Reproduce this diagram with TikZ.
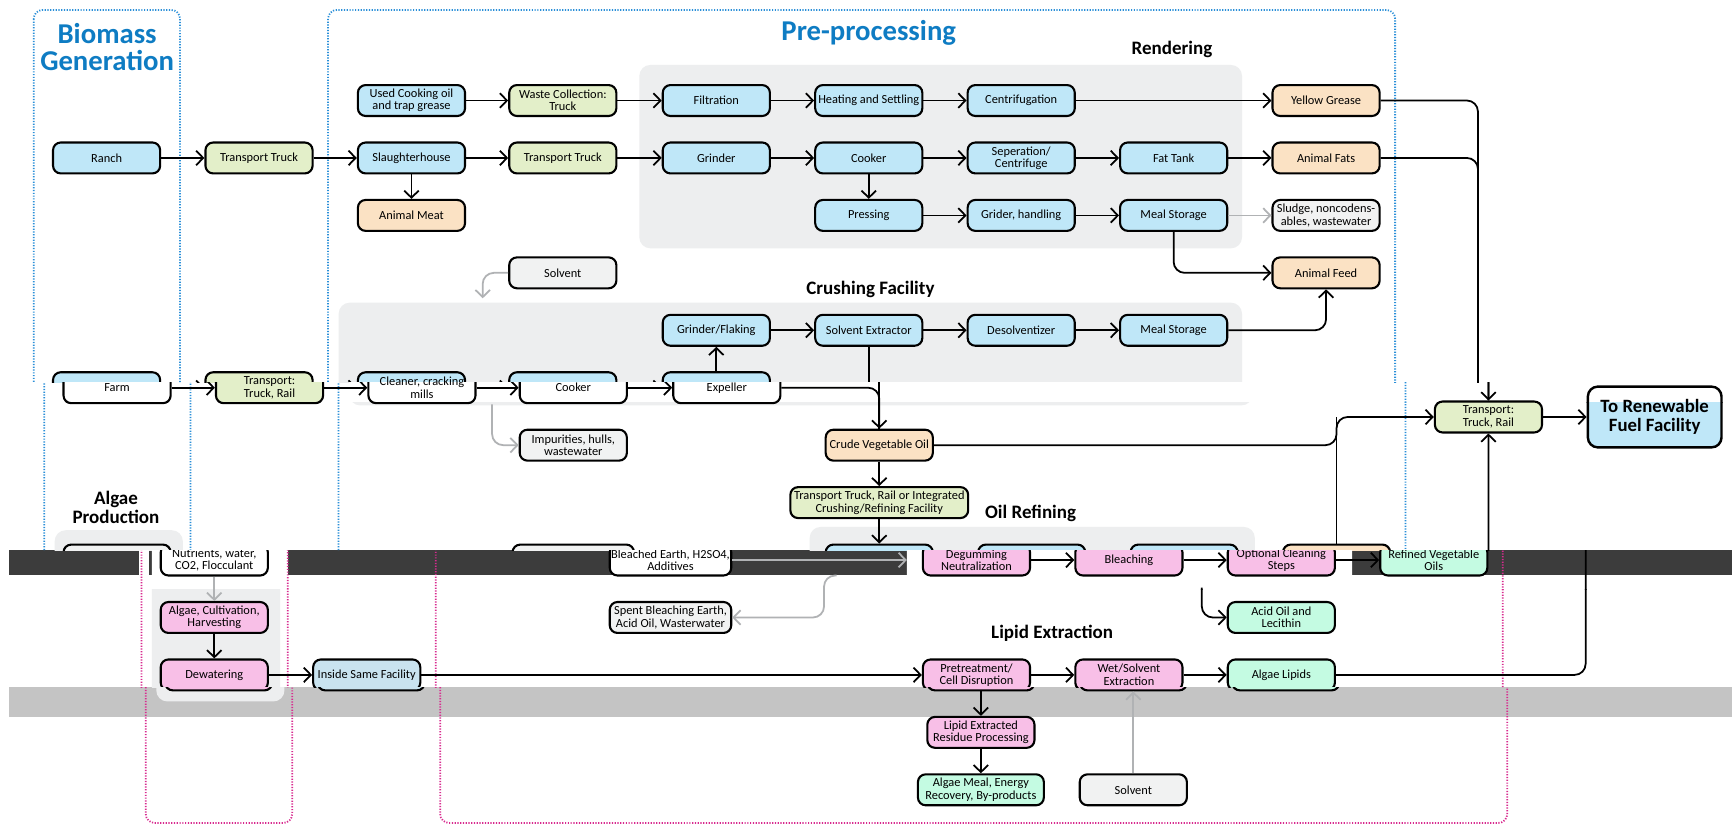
\documentclass[tikz,border=0pt]{standalone}
\usepackage{fontspec}
\setmainfont{Carlito}
\usetikzlibrary{arrows.meta}
\definecolor{bBlue}{HTML}{BFE7F8}
\definecolor{bGreen}{HTML}{E3EFC9}
\definecolor{bOrange}{HTML}{FBE2C4}
\definecolor{bGrayN}{HTML}{F1F2F2}
\definecolor{bGrayB}{HTML}{EDEEEF}
\definecolor{bFrame}{HTML}{2A8FD8}
\definecolor{bGArr}{HTML}{B0B2B4}
\definecolor{bTitle}{HTML}{0E7CC3}
\definecolor{rBlue}{HTML}{F8BFE7}
\definecolor{rGreen}{HTML}{C9E3EF}
\definecolor{rOrange}{HTML}{C4FBE2}
\definecolor{rFrame}{HTML}{D82A8F}
\definecolor{dkBand}{HTML}{3C3C3C}
\definecolor{gyBand}{HTML}{C4C4C4}
\newcommand{\setcols}[7]{\colorlet{cBlue}{#1}\colorlet{cGreen}{#2}\colorlet{cOrange}{#3}\colorlet{cGrayN}{#4}\colorlet{cGrayB}{#5}\colorlet{cFrame}{#6}\colorlet{cGArr}{#7}}
\setcols{bBlue}{bGreen}{bOrange}{bGrayN}{bGrayB}{bFrame}{bGArr}
\def\btop{0}\def\bbot{746}
% a text is set only in the bands that its vertical extent (centre +- half height) reaches
\newcommand{\T}[3][9]{\ifdim\dimexpr #2pt-#1pt\relax<\bbot pt\relax\ifdim\dimexpr #2pt+#1pt\relax>\btop pt\relax #3\fi\fi}
\tikzset{
 nfont/.style={font=\fontsize{5.6}{5.6}\selectfont},
 nbox/.style={draw=black, line width=0.95pt, rounded corners=3.5pt, minimum width=48.5pt, minimum height=14pt, inner sep=0.5pt, align=center, nfont},
 proc/.style={nbox, fill=cBlue},
 trans/.style={nbox, fill=cGreen},
 prod/.style={nbox, fill=cOrange},
 aux/.style={nbox, fill=cGrayN},
 bigfont/.style={font=\fontsize{8.5}{8.4}\selectfont\bfseries},
 lbl/.style={align=center, inner sep=0.5pt},
 conn/.style={draw=black, line width=0.8pt, -{Straight Barb[length=3.2pt,width=6.6pt]}},
 gconn/.style={conn, draw=cGArr},
 plain/.style={draw=black, line width=0.8pt},
 dotframe/.style={draw=cFrame, line width=0.8pt, dash pattern=on 0.55pt off 0.7pt, rounded corners=4pt},
 ttl/.style={text=bTitle, font=\fontsize{13}{12.5}\selectfont\bfseries, align=center, inner sep=0pt},
 sect/.style={text=black, font=\fontsize{8.6}{8.4}\selectfont\bfseries, align=center, inner sep=0pt},
 rc/.style={rounded corners=5pt}
}
\newcommand{\diag}{%
 % grey section boxes
 \fill[cGrayB, rc] (578.8,58.8) rectangle (1124.4,224.8);
 \fill[cGrayB, rc] (306.6,274) rectangle (1124.4,367);
 \fill[cGrayB, rc] (723.5,477) rectangle (1126.5,532);
 \fill[cGrayB, rc] (40,480) rectangle (156,635);
 % dotted frames
 \draw[dotframe] (30.5,9) rectangle (163,745);
 \draw[dotframe] (297,9) rectangle (1263,745);
 % titles
 \node[ttl] (tbio) at (97,42.5) {\T[25]{42.5}{Biomass\\Generation}};
 \node[ttl] (tpre) at (786.5,30) {\T[12]{30}{Pre-processing}};
 \node[sect] (lrend) at (1061,45) {\T[8]{45}{Rendering}};
 \node[sect] (lcrush) at (788,262) {\T[8]{262}{Crushing Facility}};
 \node[sect] (loil) at (923.5,464.5) {\T[8]{464.5}{Oil Refining}};
 \node[sect] (llip) at (855,573) {\T[8]{573}{Lipid Extraction}};
 \node[sect] (lalg) at (95.5,459.5) {\T[16]{459.5}{Algae\\Production}};
 % row 1
 \node[proc] (usedoil) at (372.5,91) {\T{91}{Used Cooking oil\\and trap grease}};
 \node[trans] (waste) at (509.5,91) {\T{91}{Waste Collection:\\Truck}};
 \node[proc] (filt) at (648.5,91) {\T{91}{Filtration}};
 \node[proc] (heat) at (786.5,91) {\T{91}{Heating and Settling}};
 \node[proc] (centr) at (924.5,91) {\T{91}{Centrifugation}};
 \node[prod] (ygr) at (1200.5,91) {\T{91}{Yellow Grease}};
 % row 2
 \node[proc] (ranch) at (96.5,143) {\T{143}{Ranch}};
 \node[trans] (tt1) at (234.5,143) {\T{143}{Transport Truck}};
 \node[proc] (slau) at (372.5,143) {\T{143}{Slaughterhouse}};
 \node[trans] (tt2) at (509.5,143) {\T{143}{Transport Truck}};
 \node[proc] (grind) at (648.5,143) {\T{143}{Grinder}};
 \node[proc] (cook) at (786.5,143) {\T{143}{Cooker}};
 \node[proc] (sep) at (924.5,143) {\T{143}{Seperation/\\Centrifuge}};
 \node[proc] (fat) at (1062.5,143) {\T{143}{Fat Tank}};
 \node[prod] (afat) at (1200.5,143) {\T{143}{Animal Fats}};
 % row 3
 \node[prod] (ameat) at (372.5,195) {\T{195}{Animal Meat}};
 \node[proc] (press) at (786.5,195) {\T{195}{Pressing}};
 \node[proc] (grid) at (924.5,195) {\T{195}{Grider, handling}};
 \node[proc] (meal1) at (1062.5,195) {\T{195}{Meal Storage}};
 \node[aux] (sludge) at (1200.5,195) {\T{195}{Sludge, noncodens-\\ables, wastewater}};
 % row 4
 \node[aux] (solv1) at (509.5,247) {\T{247}{Solvent}};
 \node[prod] (afeed) at (1200.5,247) {\T{247}{Animal Feed}};
 % row 5
 \node[proc] (flak) at (648.5,299) {\T{299}{Grinder/Flaking}};
 \node[proc] (sext) at (786.5,299) {\T{299}{Solvent Extractor}};
 \node[proc] (desolv) at (924.5,299) {\T{299}{Desolventizer}};
 \node[proc] (meal2) at (1062.5,299) {\T{299}{Meal Storage}};
 % row 6 (the texts of the two-line boxes are set once, over all bands)
 \node[proc] (farm) at (96.5,351) {\T[4]{351}{Farm}};
 \node[trans] (ttr) at (234.5,351) {};
 \node[proc] (clean) at (372.5,351) {};
 \node[proc] (cook2) at (509.5,351) {\T[4]{351}{Cooker}};
 \node[proc] (expel) at (648.5,351) {\T[4]{351}{Expeller}};
 % crude oil and transport
 \node[aux] (impur) at (509.5,403) {\T{403}{Impurities, hulls,\\wastewater}};
 \node[prod] (cvo) at (786.5,403) {\T{403}{Crude Vegetable Oil}};
 \node[trans, minimum width=80.5pt] (tint) at (786.5,455) {\T{455}{Transport Truck, Rail or Integrated\\Crushing/Refining Facility}};
 \node[trans] (transport) at (1338,377.5) {\T{377.5}{Transport:\\Truck, Rail}};
 \node[proc, minimum width=60.5pt, minimum height=27.5pt, rounded corners=4.5pt, line width=1.1pt] (renew) at (1488.5,377.5) {};
 % row 7
 \node[aux] (nutr) at (96.5,507) {\T{507}{Nutrients, water,\\CO2, Flocculant}};
 \node[aux, minimum width=55pt] (bleach) at (509.5,507) {\T{507}{Bleached Earth, H2SO4,\\Additives}};
 \node[proc] (degum) at (786.5,507) {\T{507}{Degumming\\Neutralization}};
 \node[proc] (bleaching) at (924.5,507) {\T[4]{507}{Bleaching}};
 \node[proc] (optc) at (1062.5,507) {\T{507}{Optional Cleaning\\Steps}};
 \node[prod] (refined) at (1200.5,507) {\T{507}{Refined Vegetable\\Oils}};
 % row 8
 \node[proc] (algc) at (96.5,559) {\T{559}{Algae, Cultivation,\\Harvesting}};
 \node[aux, minimum width=55pt] (spent) at (509.5,559) {\T{559}{Spent Bleaching Earth,\\Acid Oil, Wasterwater}};
 \node[prod] (acid) at (1062.5,559) {\T{559}{Acid Oil and\\Lecithin}};
 % row 9
 \node[proc] (dewat) at (96.5,611) {\T[4]{611}{Dewatering}};
 \node[trans] (inside) at (234.5,611) {\T[4]{611}{Inside Same Facility}};
 \node[proc] (pret) at (786.5,611) {\T{611}{Pretreatment/\\Cell Disruption}};
 \node[proc] (wets) at (924.5,611) {\T{611}{Wet/Solvent\\Extraction}};
 \node[prod] (alip) at (1062.5,611) {\T[4]{611}{Algae Lipids}};
 % rows 10-11
 \node[proc] (lres) at (786.5,663) {\T{663}{Lipid Extracted\\Residue Processing}};
 \node[prod, minimum width=57pt] (ameal) at (786.5,715) {\T{715}{Algae Meal, Energy\\Recovery, By-products}};
 \node[aux] (solv2) at (924.5,715) {\T{715}{Solvent}};
 % free ends
 \coordinate (solvtip) at (437,270);
 \coordinate (impstart) at (436,366);
 \coordinate (jv) at (1200.5,377.5);
 \coordinate (oilbox) at (723.5,507);
 \coordinate (spentstart) at (660,521);
 \coordinate (acidstart) at (990.5,532);
 % connectors: rendering
 \draw[conn] (usedoil) -- (waste);
 \draw[conn] (waste) -- (filt);
 \draw[conn] (filt) -- (heat);
 \draw[conn] (heat) -- (centr);
 \draw[conn] (centr) -- (ygr);
 \draw[conn] (ranch) -- (tt1);
 \draw[conn] (tt1) -- (slau);
 \draw[conn] (slau) -- (tt2);
 \draw[conn] (tt2) -- (grind);
 \draw[conn] (grind) -- (cook);
 \draw[conn] (cook) -- (sep);
 \draw[conn] (sep) -- (fat);
 \draw[conn] (fat) -- (afat);
 \draw[conn] (slau) -- (ameat);
 \draw[conn] (cook) -- (press);
 \draw[conn] (press) -- (grid);
 \draw[conn] (grid) -- (meal1);
 \draw[gconn] (meal1) -- (sludge);
 \draw[conn, rc] (meal1.south) |- (afeed.west);
 % crushing
 \draw[gconn, rc] (solv1.west) -| (solvtip);
 \draw[conn] (flak) -- (sext);
 \draw[conn] (sext) -- (desolv);
 \draw[conn] (desolv) -- (meal2);
 \draw[conn, rc] (meal2.east) -| (afeed.south);
 \draw[conn] (farm) -- (ttr);
 \draw[conn] (ttr) -- (clean);
 \draw[conn] (clean) -- (cook2);
 \draw[conn] (cook2) -- (expel);
 \draw[conn] (expel) -- (flak);
 \draw[gconn, rc] (impstart) |- (impur.west);
 \draw[plain] (sext.south) -- (cvo.north);
 \draw[conn, rc] (expel.east) -| (cvo.north);
 \draw[conn] (cvo) -- (tint);
 \draw[conn] (tint) -- (degum);
 % to transport
 \draw[conn, rc] (cvo.east) -| (jv) -- (transport.west);
 \draw[plain] (refined.north) -- (jv);
 \draw[conn, rc] (ygr.east) -| (transport.north);
 \draw[plain, rc] (afat.east) -| (transport.north);
 \draw[conn, rc] (alip.east) -| (transport.south);
 \draw[conn] (transport) -- (renew);
 % oil refining
 \draw[gconn] (bleach.east) -- (oilbox);
 \draw[gconn, rc] (spentstart) -- (648.5,521) -- (648.5,559) -- (spent.east);
 \draw[conn] (degum) -- (bleaching);
 \draw[conn] (bleaching) -- (optc);
 \draw[conn] (optc) -- (refined);
 \draw[conn, rc] (acidstart) |- (acid.west);
 % algae
 \draw[gconn] (nutr) -- (algc);
 \draw[conn] (algc) -- (dewat);
 \draw[conn] (dewat) -- (inside);
 \draw[conn] (inside) -- (pret);
 \draw[conn] (pret) -- (wets);
 \draw[conn] (wets) -- (alip);
 \draw[conn] (pret) -- (lres);
 \draw[conn] (lres) -- (ameal);
 \draw[gconn] (solv2) -- (wets);
}
\begin{document}
\begin{tikzpicture}[x=0.5pt,y=-0.5pt]
\useasboundingbox (0,0) rectangle (1568,746);
\fill[white] (0,0) rectangle (1568,746);
\fill[dkBand] (8,498) rectangle (1568,520.6);
\fill[gyBand] (8,622) rectangle (1568,649);
% band A
\begin{scope}
 \def\btop{0}\def\bbot{346}
 \setcols{bBlue}{bGreen}{bOrange}{bGrayN}{bGrayB}{bFrame}{bGArr}
 \clip (0,0) rectangle (1568,346);
 \diag
\end{scope}
% band B
\begin{scope}
 \def\btop{346}\def\bbot{364}
 \setcols{white}{bGreen}{bOrange}{white}{white}{bFrame}{bGArr}
 \clip (0,346) rectangle (1568,364);
 \begin{scope}[shift={(9.5,0)}]\diag\end{scope}
\end{scope}
% band C
\begin{scope}
 \def\btop{364}\def\bbot{498}
 \setcols{bBlue}{bGreen}{bOrange}{bGrayN}{bGrayB}{bFrame}{bGArr}
 \clip (0,364) rectangle (1568,498);
 \begin{scope}[shift={(9.5,0)}]\diag\end{scope}
\end{scope}
% band D
\begin{scope}
 \def\btop{498}\def\bbot{534}
 \setcols{rBlue}{rGreen}{rOrange}{white}{white}{rFrame}{bGArr}
 \clip (0,498) rectangle (1568,534);
 \begin{scope}[shift={(97.5,0)}]
  \fill[white] (28,498) rectangle (37.5,521);
  \fill[white] (154.5,498) rectangle (163,521);
  \diag
 \end{scope}
\end{scope}
% band E
\begin{scope}
 \def\btop{534}\def\bbot{622}
 \setcols{rBlue}{rGreen}{rOrange}{bGrayN}{bGrayB}{rFrame}{bGArr}
 \clip (0,534) rectangle (1568,622);
 \begin{scope}[shift={(97.5,0)}]\diag\end{scope}
\end{scope}
% band F
\begin{scope}
 \def\btop{622}\def\bbot{746}
 \setcols{rBlue}{rGreen}{rOrange}{bGrayN}{bGrayB}{rFrame}{bGArr}
 \clip (0,622) rectangle (1568,746);
 \begin{scope}[shift={(101.5,0)}]\diag\end{scope}
\end{scope}
% texts of boxes that straddle the band edge, set once
\begin{scope}[shift={(9.5,0)}]
 \node[lbl, nfont] (ttrtext) at (234.5,351) {Transport:\\Truck, Rail};
 \node[lbl, nfont] (cleantext) at (372.5,351) {Cleaner, cracking\\mills};
 \node[lbl, bigfont] (renewtext) at (1488.5,377.5) {To Renewable\\Fuel Facility};
\end{scope}
\end{tikzpicture}
\end{document}
